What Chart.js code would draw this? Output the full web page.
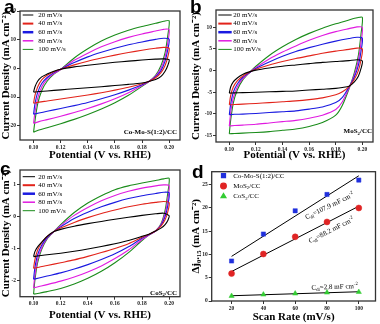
<!DOCTYPE html>
<html>
<head>
<meta charset="utf-8">
<script src="https://cdn.jsdelivr.net/npm/chart.js@4.4.0/dist/chart.umd.min.js"></script>
<style>
  body { margin: 0; background: #fff; }
  #fig { position: relative; width: 380px; height: 324px; overflow: hidden; }
  #fig canvas { position: absolute; }
</style>
</head>
<body>
<div id="fig">
  <canvas id="cvA" width="190" height="162" style="left:0;top:0"></canvas>
  <canvas id="cvB" width="190" height="162" style="left:190px;top:0"></canvas>
  <canvas id="cvC" width="190" height="162" style="left:0;top:162px"></canvas>
  <canvas id="cvD" width="190" height="162" style="left:190px;top:162px"></canvas>
</div>
<script>
// ---- data ----
// one CV loop: forward scan 0.10 -> 0.20 V, then back to 0.10 V
const potential = [0.100, 0.101, 0.103, 0.106, 0.110, 0.115, 0.120, 0.130, 0.140, 0.150, 0.160, 0.170, 0.180, 0.190, 0.196, 0.200,
                   0.199, 0.197, 0.194, 0.190, 0.185, 0.180, 0.170, 0.160, 0.150, 0.140, 0.130, 0.120, 0.110, 0.104, 0.100];
const rateLabels = ["20 mV/s", "40 mV/s", "60 mV/s", "80 mV/s", "100 mV/s"];

// a: Co-Mo-S(1:2)/CC (mA cm-2)
const a20  = [-8.3, -6.5, -4.5, -3.0, -2.0, -1.0, -0.3, 0.5, 1.1, 1.6, 2.1, 2.5, 2.9, 3.2, 3.3, 3.0,
              1.0, -1.0, -2.8, -3.9, -4.6, -5.1, -5.6, -6.0, -6.4, -6.8, -7.1, -7.5, -7.9, -8.1, -8.3];
const a40  = [-12.2, -9.5, -6.5, -4.0, -2.4, -1.2, -0.3, 1.2, 2.5, 3.6, 4.6, 5.5, 6.3, 7.0, 7.3, 7.0,
              4.0, 1.0, -1.5, -3.3, -4.6, -5.4, -6.6, -7.6, -8.5, -9.3, -10.0, -10.7, -11.4, -11.8, -12.2];
const a60  = [-16.0, -12.5, -8.5, -5.3, -3.2, -1.5, -0.3, 2.0, 4.0, 5.6, 7.0, 8.2, 9.2, 10.1, 10.5, 10.2,
              6.5, 2.5, -0.8, -3.0, -4.6, -5.7, -7.6, -9.2, -10.6, -11.9, -13.0, -14.0, -15.0, -15.6, -16.0];
const a80  = [-19.2, -15.5, -10.5, -6.5, -3.8, -1.8, -0.4, 2.8, 5.3, 7.5, 9.3, 10.8, 12.0, 13.0, 13.6, 13.5,
              9.0, 4.0, 0.0, -2.7, -4.6, -6.0, -8.5, -10.6, -12.4, -14.0, -15.4, -16.7, -17.9, -18.6, -19.2];
const a100 = [-22.3, -18.5, -12.5, -7.8, -4.5, -2.0, -0.4, 3.6, 6.8, 9.5, 11.6, 13.3, 14.6, 15.7, 16.4, 16.6,
              11.5, 5.5, 1.0, -2.4, -4.6, -6.3, -9.4, -12.0, -14.2, -16.1, -17.8, -19.3, -20.7, -21.5, -22.3];

// b: MoS2/CC
const b20  = [-5.2, -3.8, -2.6, -1.7, -0.9, -0.3, 0.1, 0.6, 1.0, 1.3, 1.6, 1.9, 2.1, 2.3, 2.5, 2.2,
              0.5, -1.3, -2.6, -3.6, -3.9, -4.1, -4.3, -4.5, -4.7, -4.8, -4.9, -5.0, -5.1, -5.15, -5.2];
const b40  = [-7.9, -5.8, -3.8, -2.4, -1.3, -0.4, 0.3, 1.3, 2.1, 2.8, 3.4, 4.0, 4.5, 4.9, 5.2, 5.0,
              2.5, 0.0, -2.0, -3.7, -4.9, -5.6, -6.3, -6.7, -7.0, -7.2, -7.4, -7.6, -7.75, -7.85, -7.9];
const b60  = [-10.2, -7.8, -5.0, -3.1, -1.6, -0.5, 0.5, 2.0, 3.3, 4.4, 5.3, 6.1, 6.8, 7.4, 7.7, 7.5,
              4.5, 1.2, -1.5, -3.8, -6.2, -7.4, -8.4, -8.9, -9.3, -9.5, -9.7, -9.9, -10.05, -10.1, -10.2];
const b80  = [-12.8, -9.8, -6.3, -3.8, -1.9, -0.5, 0.7, 2.7, 4.3, 5.7, 7.0, 8.1, 9.0, 9.7, 10.1, 10.0,
              6.5, 2.5, -1.0, -4.0, -7.2, -9.0, -10.3, -11.0, -11.5, -11.8, -12.1, -12.4, -12.6, -12.7, -12.8];
const b100 = [-14.6, -11.5, -7.5, -4.5, -2.2, -0.5, 1.0, 3.5, 5.5, 7.2, 8.6, 9.8, 10.8, 11.7, 12.2, 12.3,
              8.5, 3.5, -0.5, -4.2, -8.0, -10.3, -12.0, -12.9, -13.5, -13.8, -14.1, -14.3, -14.45, -14.55, -14.6];

// c: CoS2/CC
const c20  = [-1.26, -1.1, -0.95, -0.8, -0.62, -0.47, -0.40, -0.30, -0.22, -0.15, -0.08, -0.02, 0.04, 0.09, 0.11, 0.03,
              -0.12, -0.25, -0.36, -0.45, -0.55, -0.62, -0.75, -0.85, -0.94, -1.02, -1.09, -1.15, -1.2, -1.23, -1.26];
const c40  = [-1.63, -1.35, -1.05, -0.82, -0.62, -0.47, -0.36, -0.18, -0.03, 0.10, 0.21, 0.31, 0.39, 0.45, 0.48, 0.44,
              0.15, -0.10, -0.30, -0.45, -0.56, -0.65, -0.85, -1.0, -1.13, -1.25, -1.36, -1.45, -1.54, -1.59, -1.63];
const c60  = [-1.97, -1.6, -1.2, -0.9, -0.65, -0.47, -0.32, -0.06, 0.14, 0.31, 0.45, 0.57, 0.66, 0.73, 0.77, 0.75,
              0.35, 0.0, -0.27, -0.45, -0.57, -0.68, -0.95, -1.17, -1.35, -1.51, -1.65, -1.77, -1.87, -1.93, -1.97];
const c80  = [-2.24, -1.85, -1.35, -0.98, -0.68, -0.47, -0.28, 0.04, 0.29, 0.50, 0.67, 0.80, 0.90, 0.97, 1.0, 0.98,
              0.55, 0.1, -0.25, -0.45, -0.58, -0.72, -1.05, -1.32, -1.55, -1.74, -1.9, -2.03, -2.14, -2.2, -2.24];
const c100 = [-2.44, -2.0, -1.45, -1.03, -0.7, -0.47, -0.25, 0.13, 0.43, 0.66, 0.85, 0.97, 1.06, 1.14, 1.19, 1.21,
              0.75, 0.2, -0.22, -0.45, -0.58, -0.75, -1.13, -1.45, -1.72, -1.94, -2.12, -2.26, -2.36, -2.41, -2.44];

// d: delta j at 0.15 V vs scan rate
const scanRates = [20, 40, 60, 80, 100];
const dCoMoS = [8.6, 14.4, 19.4, 22.9, 26.0];
const dMoS2  = [5.9, 10.1, 13.8, 17.0, 20.0];
const dCoS2  = [1.08, 1.38, 1.6, 1.81, 1.94];
const cdlValues = ["107.9", "88.2", "2.8"];

// tick labels
const potTicks = [0.10, 0.12, 0.14, 0.16, 0.18, 0.20];
const aTicks = [-20, -10, 0, 10, 20];
const bTicks = [-15, -10, -5, 0, 5, 10];
const cTicks = [-2, -1, 0, 1];
const dXTicks = [20, 40, 60, 80, 100];
const dYTicks = [0, 5, 10, 15, 20, 25];

// ---- styling ----
const SERIF = '"Liberation Serif", "Times New Roman", serif';
const cvColors = ["#000000", "#e2231a", "#1a1ae0", "#e01ae0", "#1a8c1a"];
const legendWidths = [1, 2, 2.5, 1.5, 1];

// draw text made of normal / sub / sup parts
function drawRich(ctx, parts, x, y, size, weight, align) {
  const fonts = parts.map(p => `${weight} ${p[1] ? size * 0.68 : size}px ${SERIF}`);
  let w = 0;
  parts.forEach((p, i) => { ctx.font = fonts[i]; w += ctx.measureText(p[0]).width; });
  let cx = align === "right" ? x - w : align === "center" ? x - w / 2 : x;
  ctx.textAlign = "left";
  ctx.textBaseline = "middle";
  parts.forEach((p, i) => {
    ctx.font = fonts[i];
    const dy = p[1] === 1 ? size * 0.3 : p[1] === 2 ? -size * 0.35 : 0;
    ctx.fillText(p[0], cx, y + dy);
    cx += ctx.measureText(p[0]).width;
  });
}

// frame, panel letter, legend, notes
const notes = {
  id: "notes",
  afterDatasetsDraw(chart, args, o) {
    const { ctx, chartArea: ca } = chart;
    ctx.save();
    ctx.strokeStyle = "#333";
    ctx.lineWidth = 1.3;
    ctx.strokeRect(ca.left, ca.top, ca.right - ca.left, ca.bottom - ca.top);

    ctx.fillStyle = "#000";
    ctx.font = 'bold 19px "Liberation Sans", Arial, sans-serif';
    ctx.textAlign = "left";
    ctx.textBaseline = "alphabetic";
    ctx.fillText(o.letter, o.letterX, o.letterY);

    if (o.cvLegend) {
      const L = o.cvLegend;
      rateLabels.forEach((lab, i) => {
        const y = ca.top + L.y + i * L.step;
        ctx.strokeStyle = cvColors[i];
        ctx.lineWidth = legendWidths[i];
        ctx.beginPath();
        ctx.moveTo(ca.left + L.x0, y);
        ctx.lineTo(ca.left + L.x1, y);
        ctx.stroke();
        ctx.fillStyle = "#000";
        drawRich(ctx, [[lab, 0]], ca.left + L.tx, y, 7, "normal", "left");
      });
    }
    if (o.markLegend) {
      o.markLegend.forEach((m, i) => {
        const y = ca.top + 4 + i * 10.3;
        ctx.fillStyle = m.color;
        ctx.strokeStyle = m.color;
        Chart.helpers.drawPoint(ctx, { pointStyle: m.style, radius: 2.8, rotation: 0, borderWidth: 0.5 }, ca.left + 11.8, y);
        ctx.fillStyle = "#000";
        drawRich(ctx, m.parts, ca.left + 21.5, y, 7, "normal", "left");
      });
    }
    if (o.tag) {
      ctx.fillStyle = "#000";
      drawRich(ctx, o.tag.parts, ca.right - o.tag.dx, ca.bottom - o.tag.dy, 7, "bold", "right");
    }
    if (o.labels) {
      const sx = chart.scales.x, sy = chart.scales.y;
      o.labels.forEach(l => {
        ctx.save();
        ctx.translate(sx.getPixelForValue(l.x), sy.getPixelForValue(l.y));
        ctx.rotate(l.angle * Math.PI / 180);
        ctx.fillStyle = "#000";
        drawRich(ctx, l.parts, 0, 0, 7, "normal", "center");
        ctx.restore();
      });
    }
    ctx.restore();
  }
};

function axis(cfg) {
  return {
    type: "linear",
    min: cfg.min,
    max: cfg.max,
    afterBuildTicks: s => { s.ticks = cfg.ticks.map(v => ({ value: v })); },
    afterFit: s => { if (cfg.w) s.width = cfg.w; if (cfg.h) s.height = cfg.h; },
    border: { display: false },
    grid: { drawOnChartArea: false, tickLength: 3, color: "#333", lineWidth: 1 },
    ticks: {
      autoSkip: false, maxRotation: 0, padding: 1, color: "#222",
      font: { family: SERIF, size: 5.5, weight: "bold" },
      callback: cfg.fmt || (v => String(v))
    },
    title: {
      display: true, text: cfg.title, color: "#000",
      font: { family: SERIF, size: 11, weight: "bold" },
      padding: { top: cfg.tpad || 0, bottom: cfg.tpad || 0 }
    }
  };
}

function cvPanel(id, curves, p) {
  new Chart(document.getElementById(id), {
    type: "scatter",
    data: {
      datasets: curves.map((cur, i) => ({
        label: rateLabels[i],
        data: potential.map((v, k) => ({ x: v, y: cur[k] })),
        showLine: true,
        borderColor: cvColors[i],
        backgroundColor: cvColors[i],
        borderWidth: 1.1,
        pointRadius: 0,
        tension: 0.25,
        fill: false
      }))
    },
    options: {
      responsive: false,
      animation: false,
      layout: { padding: p.pad },
      plugins: { legend: { display: false }, tooltip: { enabled: false }, notes: p.notes },
      scales: {
        x: axis({ min: 0.09, max: 0.208, ticks: potTicks, h: p.xh, title: "Potential (V vs. RHE)", fmt: v => v.toFixed(2), tpad: p.xtpad }),
        y: axis({ min: p.ymin, max: p.ymax, ticks: p.yticks, w: p.yw, title: "Current Density (mA cm⁻²)" })
      }
    },
    plugins: [notes]
  });
}

cvPanel("cvA", [a20, a40, a60, a80, a100], {
  pad: { left: 0, top: 11, right: 10, bottom: 0 }, xh: 22, yw: 20,
  ymin: -25, ymax: 20, yticks: aTicks,
  notes: {
    letter: "a", letterX: 4, letterY: 13,
    cvLegend: { x0: 2.7, x1: 13.3, tx: 18.3, y: 4, step: 8.6 },
    tag: { parts: [["Co-Mo-S(1:2)/CC", 0]], dx: 3, dy: 8.3 }
  }
});

cvPanel("cvB", [b20, b40, b60, b80, b100], {
  pad: { left: 0, top: 10, right: 7, bottom: 0 }, xh: 20, yw: 26,
  ymin: -16.5, ymax: 14, yticks: bTicks,
  notes: {
    letter: "b", letterX: 0, letterY: 13,
    cvLegend: { x0: 2.3, x1: 15.7, tx: 17.3, y: 5, step: 8.6 },
    tag: { parts: [["MoS", 0], ["2", 1], ["/CC", 0]], dx: 1, dy: 10.7 }
  }
});

cvPanel("cvC", [c20, c40, c60, c80, c100], {
  pad: { left: 0, top: 8, right: 10, bottom: 0 }, xh: 27.3, yw: 20, xtpad: 2,
  ymin: -2.52, ymax: 1.47, yticks: cTicks,
  notes: {
    letter: "c", letterX: 0, letterY: 13,
    cvLegend: { x0: 2.7, x1: 15, tx: 18.3, y: 6.7, step: 8.5 },
    tag: { parts: [["CoS", 0], ["2", 1], ["/CC", 0]], dx: 3, dy: 4 }
  }
});

// least-squares line through a series, drawn between the first and last scan rate
function fitLine(xs, ys) {
  const n = xs.length;
  const mx = xs.reduce((a, b) => a + b, 0) / n;
  const my = ys.reduce((a, b) => a + b, 0) / n;
  let sxy = 0, sxx = 0;
  xs.forEach((x, i) => { sxy += (x - mx) * (ys[i] - my); sxx += (x - mx) * (x - mx); });
  const k = sxy / sxx;
  const x0 = xs[0], x1 = xs[n - 1];
  return [{ x: x0, y: my + k * (x0 - mx) }, { x: x1, y: my + k * (x1 - mx) }];
}

const dSeries = [
  { name: "Co-Mo-S(1:2)/CC", parts: [["Co-Mo-S(1:2)/CC", 0]], ys: dCoMoS, color: "#2030dd", style: "rect" },
  { name: "MoS2/CC", parts: [["MoS", 0], ["2", 1], ["/CC", 0]], ys: dMoS2, color: "#e02424", style: "circle" },
  { name: "CoS2/CC", parts: [["CoS", 0], ["2", 1], ["/CC", 0]], ys: dCoS2, color: "#33cc33", style: "triangle" }
];

new Chart(document.getElementById("cvD"), {
  type: "scatter",
  data: {
    datasets: [
      ...dSeries.map(s => ({
        label: s.name,
        data: scanRates.map((x, i) => ({ x, y: s.ys[i] })),
        pointStyle: s.style,
        pointRadius: 3,
        backgroundColor: s.color,
        borderColor: s.color,
        borderWidth: 0.5,
        order: 0
      })),
      ...dSeries.map(s => ({
        label: s.name + " fit",
        data: fitLine(scanRates, s.ys),
        showLine: true,
        borderColor: "#000",
        borderWidth: 1,
        pointRadius: 0,
        order: 1
      }))
    ]
  },
  options: {
    responsive: false,
    animation: false,
    layout: { padding: { left: 0, top: 9.7, right: 3, bottom: 0 } },
    plugins: {
      legend: { display: false },
      tooltip: { enabled: false },
      notes: {
        letter: "d", letterX: 2, letterY: 16,
        markLegend: dSeries,
        labels: [
          { x: 81.7, y: 20.4, angle: -26, parts: [["C", 0], ["dl", 1], ["=" + cdlValues[0] + " mF cm", 0], ["-2", 2]] },
          { x: 82.8, y: 15.2, angle: -27, parts: [["C", 0], ["dl", 1], ["=" + cdlValues[1] + " mF cm", 0], ["-2", 2]] },
          { x: 84.8, y: 3.0, angle: -2, parts: [["C", 0], ["dl", 1], ["=" + cdlValues[2] + " mF cm", 0], ["-2", 2]] }
        ]
      }
    },
    scales: {
      x: axis({ min: 7.5, max: 110.5, ticks: dXTicks, h: 23, title: "Scan Rate (mV/s)" }),
      y: axis({ min: 0, max: 27.8, ticks: dYTicks, w: 21.7, title: "Δj₀.₁₅ (mA cm⁻²)" })
    }
  },
  plugins: [notes]
});
</script>
</body>
</html>
